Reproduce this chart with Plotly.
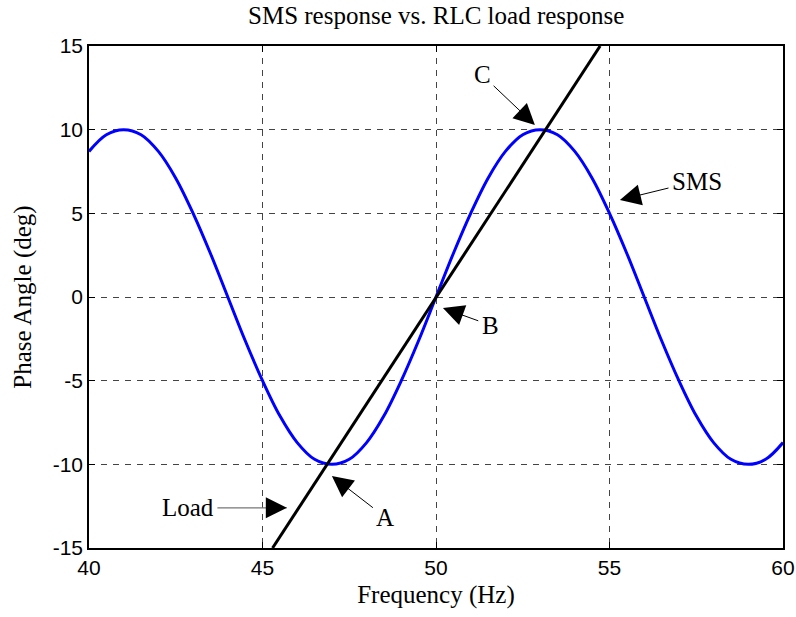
import plotly.graph_objects as go

# SMS response (Hz, deg)
sms_freq = [40.0, 40.5, 41.0, 41.5, 42.0, 42.5, 43.0, 43.5, 44.0, 44.5,
            45.0, 45.5, 46.0, 46.5, 47.0, 47.5, 48.0, 48.5, 49.0, 49.5,
            50.0, 50.5, 51.0, 51.5, 52.0, 52.5, 53.0, 53.5, 54.0, 54.5,
            55.0, 55.5, 56.0, 56.5, 57.0, 57.5, 58.0, 58.5, 59.0, 59.5, 60.0]
sms_phase = [8.7, 9.7, 10.0, 9.7, 8.7, 7.1, 5.0, 2.6, 0.0, -2.6,
             -5.0, -7.1, -8.7, -9.7, -10.0, -9.7, -8.7, -7.1, -5.0, -2.6,
             0.0, 2.6, 5.0, 7.1, 8.7, 9.7, 10.0, 9.7, 8.7, 7.1,
             5.0, 2.6, 0.0, -2.6, -5.0, -7.1, -8.7, -9.7, -10.0, -9.7, -8.7]

# RLC load line
load_freq = [45.29, 54.73]
load_phase = [-15.0, 15.0]

# tick labels
x_ticks = [40, 45, 50, 55, 60]
x_tick_labels = ["40", "45", "50", "55", "60"]
y_ticks = [-15, -10, -5, 0, 5, 10, 15]
y_tick_labels = ["-15", "-10", "-5", "0", "5", "10", "15"]

# annotations: label, text position, arrow tip (data coords)
ann_labels = ["C", "B", "A", "Load", "SMS"]
ann_text_xy = [(51.33, 13.27), (51.56, -1.68), (48.53, -13.15), (42.85, -12.6), (57.52, 6.93)]
ann_tip_xy = [(52.85, 10.28), (50.2, -0.66), (47.0, -10.7), (45.7, -12.6), (55.3, 5.8)]

fig = go.Figure()
fig.add_trace(go.Scatter(x=sms_freq, y=sms_phase, mode="lines", line=dict(color="#0000ff", width=3, shape="spline"), showlegend=False))
fig.add_trace(go.Scatter(x=load_freq, y=load_phase, mode="lines", line=dict(color="black", width=3), showlegend=False))

for lab, (tx, ty), (ax_, ay_) in zip(ann_labels, ann_text_xy, ann_tip_xy):
    if lab == "Load":
        # gray shaft with black head, as in the original
        fig.add_annotation(x=ax_, y=ay_, ax=tx, ay=ty, axref="x", ayref="y", xref="x", yref="y",
                           text=lab, showarrow=True, arrowhead=0, arrowwidth=1.2, arrowcolor="#777777",
                           standoff=0, startstandoff=2, font=dict(family="Liberation Serif", size=25, color="black"))
        fig.add_annotation(x=ax_, y=ay_, ax=-18, ay=0, axref="pixel", ayref="pixel", xref="x", yref="y",
                           text="", showarrow=True, arrowhead=2, arrowsize=4.2, arrowwidth=1, arrowcolor="black",
                           standoff=0)
    else:
        fig.add_annotation(x=ax_, y=ay_, ax=tx, ay=ty, axref="x", ayref="y", xref="x", yref="y",
                           text=lab, showarrow=True, arrowhead=2, arrowsize=4.2, arrowwidth=1,
                           arrowcolor="black", standoff=0, startstandoff=2,
                           font=dict(family="Liberation Serif", size=25, color="black"))

axis_common = dict(showline=True, linecolor="black", linewidth=1.5, mirror="ticks", ticks="inside", ticklen=6,
                   tickcolor="black", showgrid=True, gridcolor="#444444", griddash="6px,6px", gridwidth=1,
                   zeroline=False, automargin=False, tickfont=dict(family="Liberation Sans", size=21, color="black"))
fig.update_xaxes(range=[40, 60], tickvals=x_ticks, ticktext=x_tick_labels,
                 title=dict(text="Frequency (Hz)", font=dict(family="Liberation Serif", size=25, color="black"), standoff=8), **axis_common)
fig.update_yaxes(range=[-15, 15], tickvals=y_ticks, ticktext=y_tick_labels,
                 title=dict(text="Phase Angle (deg)", font=dict(family="Liberation Serif", size=25, color="black"), standoff=14), **axis_common)

fig.update_layout(width=796, height=617, margin=dict(l=89, r=13, t=46, b=69),
                  paper_bgcolor="white", plot_bgcolor="white",
                  title=dict(text="SMS response vs. RLC load response", x=0.548, xanchor="center", y=0.99, yanchor="top",
                             font=dict(family="Liberation Serif", size=25, color="black")))
fig.write_html("out.html")
